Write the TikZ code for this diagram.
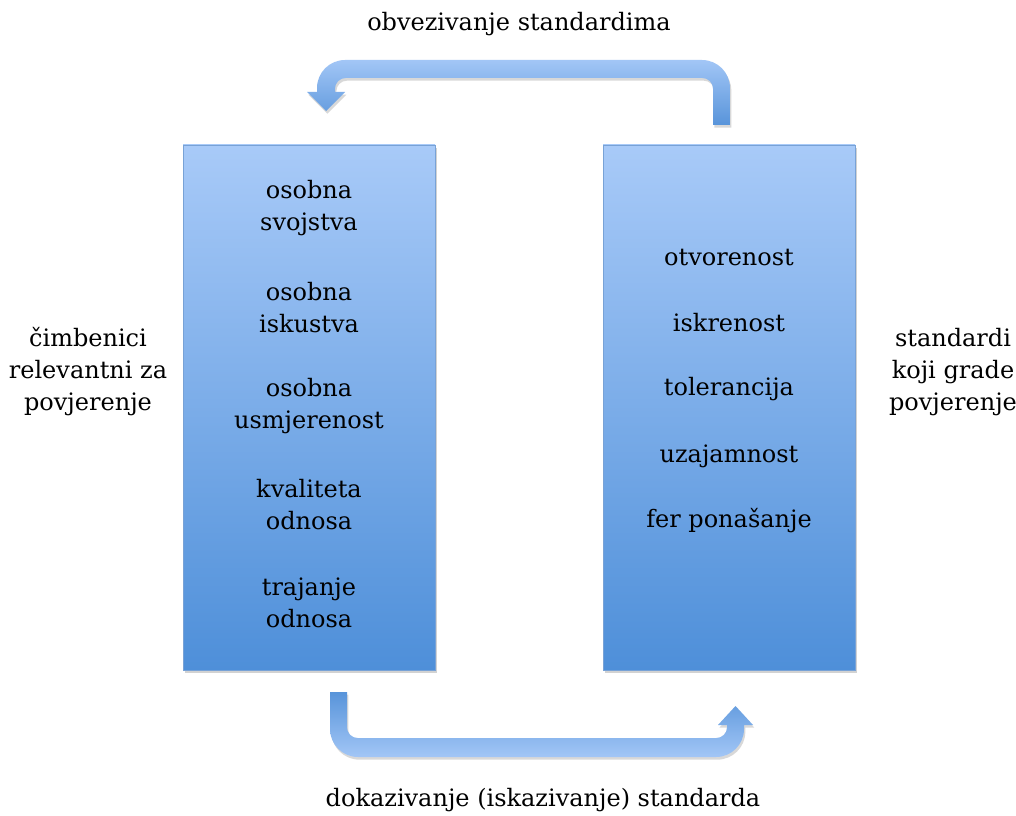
\documentclass[tikz,border=0pt]{standalone}
\usepackage{fontspec}
\setmainfont{DejaVu Serif}
\usetikzlibrary{shadows}
\definecolor{boxtop}{RGB}{168,202,248}
\definecolor{boxbot}{RGB}{78,143,217}
\definecolor{boxline}{RGB}{120,162,214}
\definecolor{arrlight}{RGB}{162,198,246}
\definecolor{arrdark}{RGB}{88,148,218}
\tikzset{
  bigbox/.style={draw=boxline, line width=0.3pt, top color=boxtop, bottom color=boxbot,
    minimum width=189pt, minimum height=393.75pt, inner sep=0pt,
    drop shadow={shadow xshift=1.2pt, shadow yshift=-2pt, opacity=0.35}},
  item/.style={align=center, font=\fontsize{18}{24}\selectfont, inner sep=0pt, text=black},
  side/.style={align=center, font=\fontsize{18}{24}\selectfont, inner sep=0pt, text=black},
  arrshadow/.style={drop shadow={shadow xshift=1pt, shadow yshift=-2pt, opacity=0.3}}
}
\begin{document}
\begin{tikzpicture}[x=0.75pt, y=-0.75pt]
\useasboundingbox[fill=white] (0,0) rectangle (1016,816);

% boxes
\node[bigbox] (L) at (309,407.5) {};
\node[bigbox] (R) at (729,407.5) {};

% left items
\node[item] (l1) at (309,208) {osobna\\svojstva};
\node[item] (l2) at (309,308) {osobna\\iskustva};
\node[item] (l3) at (309,406) {osobna\\usmjerenost};
\node[item] (l4) at (309,505) {kvaliteta\\odnosa};
\node[item] (l5) at (309,603) {trajanje\\odnosa};

% right items
\node[item] (r1) at (729,258) {otvorenost};
\node[item] (r2) at (729,323) {iskrenost};
\node[item] (r3) at (729,389) {tolerancija};
\node[item] (r4) at (729,456) {uzajamnost};
\node[item] (r5) at (729,521) {fer ponašanje};

% side labels
\node[side] (sl) at (88,372) {čimbenici\\relevantni za\\povjerenje};
\node[side] (sr) at (953,372) {standardi\\koji grade\\povjerenje};

% top / bottom labels
\node[side] (top) at (519,24) {obvezivanje standardima};
\node[side] (bot) at (543,800) {dokazivanje (iskazivanje) standarda};

% top arrow (right box -> left box)
\shade[top color=arrlight, bottom color=arrdark, arrshadow]
  (730,125) [rounded corners=21pt] -- (730,60) -- (317,60)
  [sharp corners] -- (317,92) -- (307,92) -- (326,111) -- (345,92) -- (335,92)
  [rounded corners=8pt] -- (335,78) -- (713,78)
  [sharp corners] -- (713,125) -- cycle;

% bottom arrow (left box -> right box)
\shade[top color=arrdark, bottom color=arrlight, arrshadow]
  (330,692) [rounded corners=21pt] -- (330,757) -- (744,757)
  [sharp corners] -- (744,725) -- (753,725) -- (735.5,706) -- (718,725) -- (727,725)
  [rounded corners=8pt] -- (727,738) -- (347,738)
  [sharp corners] -- (347,692) -- cycle;
\end{tikzpicture}
\end{document}
